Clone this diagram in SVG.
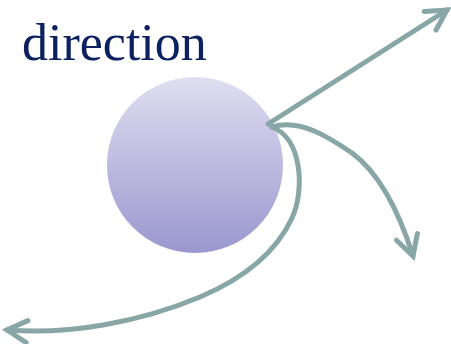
<svg xmlns="http://www.w3.org/2000/svg" width="451" height="344" viewBox="0 0 451 344">
<style>
.conn{fill:none;stroke:#88a6a6;stroke-width:5;stroke-linecap:round;stroke-linejoin:round}
.label{font-family:"Liberation Serif","Times New Roman",serif;font-size:52px;fill:#0d2160}
</style>
<defs>
<linearGradient id="g" x1="0" y1="0" x2="0" y2="1">
<stop offset="0" stop-color="#e0def0"/>
<stop offset="1" stop-color="#9a97cf"/>
</linearGradient>
<marker id="a" markerUnits="userSpaceOnUse" markerWidth="40" markerHeight="40" viewBox="-30 -20 40 40" refX="0" refY="0" orient="auto">
<path d="M-20,-11 L0,0 L-20,11" fill="none" stroke="#88a6a6" stroke-width="5" stroke-linecap="round" stroke-linejoin="miter"/>
</marker>
</defs>
<g id="title"><text class="label" x="22" y="60">direction</text></g>
<g id="ball"><circle cx="195" cy="165" r="88" fill="url(#g)"/></g>
<g id="connectors">
<path class="conn" marker-end="url(#a)" d="M268,124 L447,10"/>
<path class="conn" marker-end="url(#a)" d="M272,127 C300,118 330,138 352,153 C382,175 400,215 413,256"/>
<path class="conn" marker-end="url(#a)" d="M272,127 C302,138 305,190 292,218 C275,255 240,280 200,297 C140,322 70,335 7,330"/>
</g>
</svg>
